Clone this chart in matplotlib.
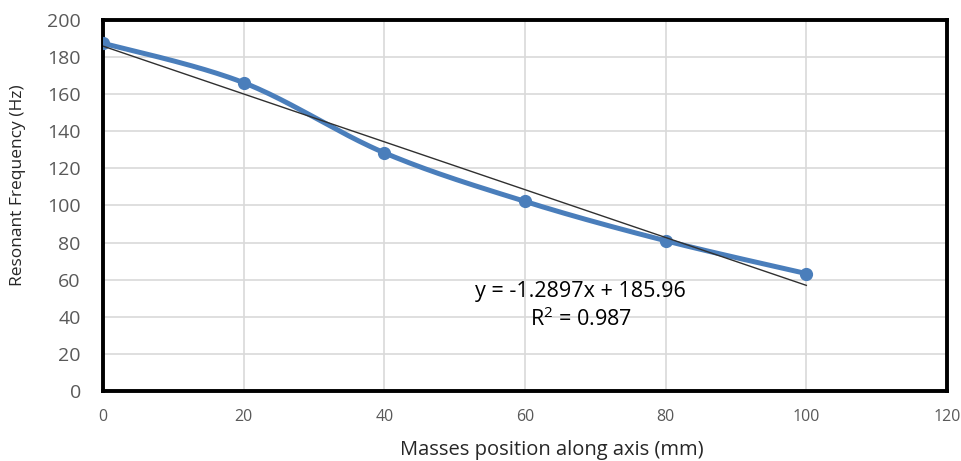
import numpy as np
import matplotlib
matplotlib.use("Agg")
import matplotlib.pyplot as plt

positions = [0, 20, 40, 60, 80, 100]
frequencies = [187.5, 166.2, 128.4, 102.2, 81.0, 63.3]
x_ticks = [0, 20, 40, 60, 80, 100, 120]
y_ticks = [0, 20, 40, 60, 80, 100, 120, 140, 160, 180, 200]
eq_text = "y = -1.2897x + 185.96"
r2_text = "R$^2$ = 0.987"

plt.rcParams['font.family'] = ['Open Sans', 'DejaVu Sans']
plt.rcParams['mathtext.fontset'] = 'custom'
plt.rcParams['mathtext.rm'] = 'Open Sans'

def catmull_rom(xs, ys, n=40):
    xs = np.asarray(xs, float); ys = np.asarray(ys, float)
    px = np.concatenate([[xs[0]], xs, [xs[-1]]])
    py = np.concatenate([[ys[0]], ys, [ys[-1]]])
    outx, outy = [], []
    for i in range(1, len(px) - 2):
        t = np.linspace(0, 1, n)
        p0x, p1x, p2x, p3x = px[i-1], px[i], px[i+1], px[i+2]
        p0y, p1y, p2y, p3y = py[i-1], py[i], py[i+1], py[i+2]
        c1x = p1x + (p2x - p0x) / 6; c1y = p1y + (p2y - p0y) / 6
        c2x = p2x - (p3x - p1x) / 6; c2y = p2y - (p3y - p1y) / 6
        bx = (1-t)**3*p1x + 3*(1-t)**2*t*c1x + 3*(1-t)*t**2*c2x + t**3*p2x
        by = (1-t)**3*p1y + 3*(1-t)**2*t*c1y + 3*(1-t)*t**2*c2y + t**3*p2y
        outx.append(bx); outy.append(by)
    return np.concatenate(outx), np.concatenate(outy)

fig = plt.figure(figsize=(9.62, 4.61), dpi=100)
ax = fig.add_axes([103/962, 1 - 391/461, (947-103)/962, (391-20)/461])

ax.set_xlim(0, 120)
ax.set_ylim(0, 200)
ax.set_xticks(x_ticks)
ax.set_yticks(y_ticks)
ax.grid(True, color='#d9d9d9', linewidth=1.2)
ax.set_axisbelow(True)

sx, sy = catmull_rom(positions, frequencies)
ax.plot(sx, sy, color='#4a7ebb', linewidth=3.6, solid_capstyle='round', zorder=3)
ax.plot(positions, frequencies, 'o', color='#4a7ebb', markersize=8.5, zorder=4)

slope, intercept = np.polyfit(positions, frequencies, 1)
tx = np.array([positions[0], positions[-1]])
ax.plot(tx, slope * tx + intercept, color='#303030', linewidth=1.0, zorder=5)

for s in ax.spines.values():
    s.set_linewidth(2.8)
    s.set_color('black')

ax.tick_params(axis='y', labelsize=14, colors='#595959', length=0, pad=16)
ax.tick_params(axis='x', labelsize=11.5, colors='#595959', length=0, pad=13)
for lbl in ax.get_xticklabels() + ax.get_yticklabels():
    lbl.set_color('#595959')

fig.text(552/962, 1 - 450/461, "Masses position along axis (mm)", fontsize=14.5,
         color='#262626', ha='center', va='center')
fig.text(18/962, 1 - 185/461, "Resonant Frequency (Hz)", fontsize=12.5,
         color='#262626', ha='center', va='center', rotation=90)

ax.text(67.9, 53.4, eq_text, fontsize=15.5, color='#000000', ha='center', va='center')
ax.text(67.9, 38.8, r2_text, fontsize=15.5, color='#000000', ha='center', va='center')

fig.savefig("out.png", dpi=100)
